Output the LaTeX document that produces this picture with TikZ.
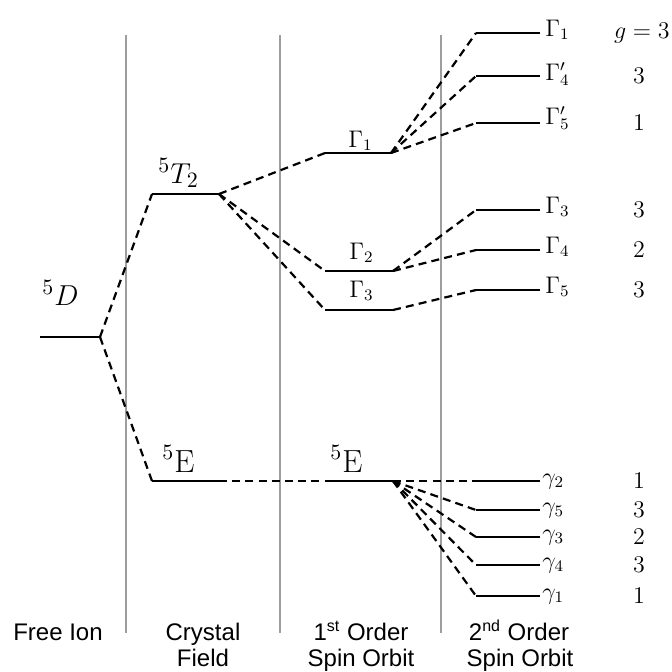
\documentclass[tikz,border=0pt]{standalone}
\usepackage{fontspec}
\newfontfamily\arialfont{Liberation Sans}
\begin{document}
\begin{tikzpicture}[x=0.5pt,y=-0.5pt,
  lvl/.style={line width=1pt},
  conn/.style={line width=1.1pt, dash pattern=on 4pt off 2.6pt},
  divider/.style={draw=black!38, line width=0.7pt},
  termlab/.style={inner sep=0pt, anchor=base west, font=\fontsize{15}{17}\selectfont},
  elab/.style={inner sep=0pt, anchor=base west, font=\fontsize{16}{18}\selectfont},
  glab/.style={inner sep=0pt, anchor=base west, font=\fontsize{11.5}{13}\selectfont},
  deg/.style={inner sep=0pt, font=\fontsize{12.5}{14}\selectfont},
  axlab/.style={inner sep=0pt, anchor=base, font=\arialfont\fontsize{12}{13}\selectfont}]
\useasboundingbox (0,0) rectangle (672,671);

% dividers
\draw[divider] (126,35) -- (126,633);
\draw[divider] (280,35) -- (280,633);
\draw[divider] (441,35) -- (441,633);

% level end points
\coordinate (DL) at (40,337);   \coordinate (DR) at (100,337);
\coordinate (TL) at (152,194);  \coordinate (TR) at (219,194);
\coordinate (ECL) at (152,481); \coordinate (ECR) at (219,481);
\coordinate (AL) at (325,153);  \coordinate (AR) at (391,153);
\coordinate (BL) at (325,271);  \coordinate (BR) at (393,271);
\coordinate (CL) at (325,310);  \coordinate (CR) at (393,310);
\coordinate (ESL) at (325,481); \coordinate (ESR) at (393,481);
\foreach \n/\y in {G1/33,G4p/76,G5p/123,G3/210,G4/250,G5/290,c2/481,c5/510,c3/537,c4/565,c1/596}{
  \coordinate (\n L) at (476,\y);
  \coordinate (\n R) at (540,\y);
}

% levels
\foreach \n in {D,T,EC,A,B,C,ES,G1,G4p,G5p,G3,G4,G5,c2,c5,c3,c4,c1}{
  \draw[lvl] (\n L) -- (\n R);
}

% connectors
\draw[conn] (DR) -- (TL);
\draw[conn] (DR) -- (ECL);
\draw[conn] (TR) -- (AL);
\draw[conn] (TR) -- (BL);
\draw[conn] (TR) -- (CL);
\draw[conn] (ECR) -- (ESL);
\draw[conn] (AR) -- (G1L);
\draw[conn] (AR) -- (G4pL);
\draw[conn] (AR) -- (G5pL);
\draw[conn] (BR) -- (G3L);
\draw[conn] (BR) -- (G4L);
\draw[conn] (CR) -- (G5L);
\foreach \n in {c2,c5,c3,c4,c1}{
  \draw[conn] (ESR) -- (\n L);
}

% term labels
\node[termlab] (tD) at (42,305) {$^5D$};
\node[termlab] (tT) at (158,183) {$^5T_2$};
\node[elab] (tEC) at (162,472) {$^5\mathrm{E}$};
\node[elab] (tES) at (330,472) {$^5\mathrm{E}$};
\node[glab] (tA) at (348,147) {$\Gamma_1$};
\node[glab] (tB) at (349,259) {$\Gamma_2$};
\node[glab] (tC) at (349,297) {$\Gamma_3$};

% second order labels
\node[glab] (lG1) at (545,36) {$\Gamma_1$};
\node[glab] (lG4p) at (545,80) {$\Gamma_4'$};
\node[glab] (lG5p) at (545,124) {$\Gamma_5'$};
\node[glab] (lG3) at (545,213) {$\Gamma_3$};
\node[glab] (lG4) at (545,253) {$\Gamma_4$};
\node[glab] (lG5) at (545,293) {$\Gamma_5$};
\node[glab] (lc2) at (542,484) {$\gamma_2$};
\node[glab] (lc5) at (542,513) {$\gamma_5$};
\node[glab] (lc3) at (542,540) {$\gamma_3$};
\node[glab] (lc4) at (542,568) {$\gamma_4$};
\node[glab] (lc1) at (542,599) {$\gamma_1$};

% degeneracies
\node[deg, anchor=east] (dG1) at (670,33) {$g=3$};
\foreach \n/\y/\g in {G4p/76/3,G5p/123/1,G3/210/3,G4/250/2,G5/290/3,c2/481/1,c5/510/3,c3/537/2,c4/565/3,c1/596/1}{
  \node[deg] (d\n) at (639,\y) {$\g$};
}

% axis labels
\node[axlab] (ax1) at (58,640) {Free Ion};
\node[axlab] (ax2a) at (203,640) {Crystal};
\node[axlab] (ax2b) at (203,666) {Field};
\node[axlab] (ax3a) at (361,640) {1\textsuperscript{st} Order};
\node[axlab] (ax3b) at (361,666) {Spin Orbit};
\node[axlab] (ax4a) at (519,640) {2\textsuperscript{nd} Order};
\node[axlab] (ax4b) at (520,666) {Spin Orbit};
\end{tikzpicture}
\end{document}
